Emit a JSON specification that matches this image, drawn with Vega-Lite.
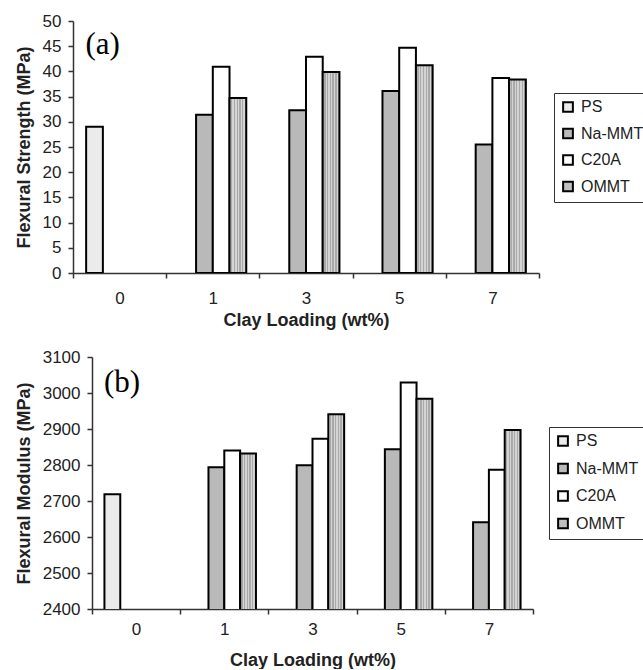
{
  "$schema": "https://vega.github.io/schema/vega-lite/v6.json",
  "padding": {"left": 15, "top": 12, "right": 0, "bottom": 0},
  "background": "white",
  "datasets": {
    "strength": [
      {"loading": "0", "series": "PS", "value": 29.0},
      {"loading": "1", "series": "Na-MMT", "value": 31.4},
      {"loading": "1", "series": "C20A", "value": 40.9},
      {"loading": "1", "series": "OMMT", "value": 34.7},
      {"loading": "3", "series": "Na-MMT", "value": 32.3},
      {"loading": "3", "series": "C20A", "value": 42.9},
      {"loading": "3", "series": "OMMT", "value": 39.9},
      {"loading": "5", "series": "Na-MMT", "value": 36.1},
      {"loading": "5", "series": "C20A", "value": 44.7},
      {"loading": "5", "series": "OMMT", "value": 41.2},
      {"loading": "7", "series": "Na-MMT", "value": 25.5},
      {"loading": "7", "series": "C20A", "value": 38.7},
      {"loading": "7", "series": "OMMT", "value": 38.4}
    ],
    "modulus": [
      {"loading": "0", "series": "PS", "value": 2719},
      {"loading": "1", "series": "Na-MMT", "value": 2794},
      {"loading": "1", "series": "C20A", "value": 2840},
      {"loading": "1", "series": "OMMT", "value": 2832},
      {"loading": "3", "series": "Na-MMT", "value": 2799},
      {"loading": "3", "series": "C20A", "value": 2873},
      {"loading": "3", "series": "OMMT", "value": 2941},
      {"loading": "5", "series": "Na-MMT", "value": 2844},
      {"loading": "5", "series": "C20A", "value": 3029},
      {"loading": "5", "series": "OMMT", "value": 2984},
      {"loading": "7", "series": "Na-MMT", "value": 2641},
      {"loading": "7", "series": "C20A", "value": 2787},
      {"loading": "7", "series": "OMMT", "value": 2897}
    ],
    "labelA": [{"loading": "0", "value": 45.3, "text": "(a)"}],
    "labelB": [{"loading": "0", "value": 3029, "text": "(b)"}]
  },
  "columns": 1,
  "concat": [
    {
      "width": 466,
      "height": 252,
      "encoding": {
        "x": {
          "field": "loading", "type": "nominal", "sort": ["0", "1", "3", "5", "7"],
          "scale": {"paddingInner": 0, "paddingOuter": 0},
          "axis": {"title": "Clay Loading (wt%)", "labelAngle": 0, "tickBand": "extent", "labelPadding": 12, "titlePadding": 5}
        },
        "y": {
          "field": "value", "type": "quantitative",
          "scale": {"domain": [0, 50]},
          "axis": {"title": "Flexural Strength (MPa)", "values": [0, 5, 10, 15, 20, 25, 30, 35, 40, 45, 50], "labelOverlap": false}
        }
      },
      "layer": [
        {
          "data": {"name": "strength"},
          "mark": {"type": "bar", "stroke": "black", "strokeWidth": 2, "clip": true},
          "encoding": {
            "xOffset": {
              "field": "series", "type": "nominal",
              "scale": {"domain": ["PS", "Na-MMT", "C20A", "OMMT"], "paddingInner": 0, "paddingOuter": 0.786}
            },
            "fill": {
              "condition": {
                "test": "datum.series === 'OMMT'",
                "value": {
                  "gradient": "linear", "x1": 0, "y1": 0, "x2": 1, "y2": 0,
                  "stops": [
                    {"offset": 0.0, "color": "#d4d4d4"}, {"offset": 0.083, "color": "#d4d4d4"},
                    {"offset": 0.083, "color": "#a9a9a9"}, {"offset": 0.167, "color": "#a9a9a9"},
                    {"offset": 0.167, "color": "#d4d4d4"}, {"offset": 0.25, "color": "#d4d4d4"},
                    {"offset": 0.25, "color": "#a9a9a9"}, {"offset": 0.333, "color": "#a9a9a9"},
                    {"offset": 0.333, "color": "#d4d4d4"}, {"offset": 0.417, "color": "#d4d4d4"},
                    {"offset": 0.417, "color": "#a9a9a9"}, {"offset": 0.5, "color": "#a9a9a9"},
                    {"offset": 0.5, "color": "#d4d4d4"}, {"offset": 0.583, "color": "#d4d4d4"},
                    {"offset": 0.583, "color": "#a9a9a9"}, {"offset": 0.667, "color": "#a9a9a9"},
                    {"offset": 0.667, "color": "#d4d4d4"}, {"offset": 0.75, "color": "#d4d4d4"},
                    {"offset": 0.75, "color": "#a9a9a9"}, {"offset": 0.833, "color": "#a9a9a9"},
                    {"offset": 0.833, "color": "#d4d4d4"}, {"offset": 0.917, "color": "#d4d4d4"},
                    {"offset": 0.917, "color": "#a9a9a9"}, {"offset": 1.0, "color": "#a9a9a9"}
                  ]
                }
              },
              "field": "series", "type": "nominal",
              "scale": {"domain": ["PS", "Na-MMT", "C20A", "OMMT"], "range": ["#ebebeb", "#b9b9b9", "#ffffff", "#bfbfbf"]},
              "legend": {"orient": "none", "legendX": 481, "legendY": 72}
            }
          }
        },
        {
          "data": {"name": "labelA"},
          "mark": {"type": "text", "font": "Liberation Serif", "fontSize": 31, "color": "black", "dx": -17},
          "encoding": {"text": {"field": "text"}}
        }
      ]
    },
    {
      "width": 460,
      "height": 252,
      "encoding": {
        "x": {
          "field": "loading", "type": "nominal", "sort": ["0", "1", "3", "5", "7"],
          "scale": {"paddingInner": 0, "paddingOuter": 0, "range": [19, 460]},
          "axis": {"title": "Clay Loading (wt%)", "labelAngle": 0, "tickBand": "extent", "labelPadding": 7, "titlePadding": 14}
        },
        "y": {
          "field": "value", "type": "quantitative",
          "scale": {"domain": [2400, 3100], "zero": false},
          "axis": {"title": "Flexural Modulus (MPa)", "values": [2400, 2500, 2600, 2700, 2800, 2900, 3000, 3100], "format": "d", "labelOverlap": false, "offset": -19}
        }
      },
      "layer": [
        {
          "data": {"name": "modulus"},
          "mark": {"type": "bar", "stroke": "black", "strokeWidth": 2, "clip": true},
          "encoding": {
            "xOffset": {
              "field": "series", "type": "nominal",
              "scale": {"domain": ["PS", "Na-MMT", "C20A", "OMMT"], "paddingInner": 0, "paddingOuter": 0.786}
            },
            "fill": {
              "condition": {
                "test": "datum.series === 'OMMT'",
                "value": {
                  "gradient": "linear", "x1": 0, "y1": 0, "x2": 1, "y2": 0,
                  "stops": [
                    {"offset": 0.0, "color": "#d4d4d4"}, {"offset": 0.083, "color": "#d4d4d4"},
                    {"offset": 0.083, "color": "#a9a9a9"}, {"offset": 0.167, "color": "#a9a9a9"},
                    {"offset": 0.167, "color": "#d4d4d4"}, {"offset": 0.25, "color": "#d4d4d4"},
                    {"offset": 0.25, "color": "#a9a9a9"}, {"offset": 0.333, "color": "#a9a9a9"},
                    {"offset": 0.333, "color": "#d4d4d4"}, {"offset": 0.417, "color": "#d4d4d4"},
                    {"offset": 0.417, "color": "#a9a9a9"}, {"offset": 0.5, "color": "#a9a9a9"},
                    {"offset": 0.5, "color": "#d4d4d4"}, {"offset": 0.583, "color": "#d4d4d4"},
                    {"offset": 0.583, "color": "#a9a9a9"}, {"offset": 0.667, "color": "#a9a9a9"},
                    {"offset": 0.667, "color": "#d4d4d4"}, {"offset": 0.75, "color": "#d4d4d4"},
                    {"offset": 0.75, "color": "#a9a9a9"}, {"offset": 0.833, "color": "#a9a9a9"},
                    {"offset": 0.833, "color": "#d4d4d4"}, {"offset": 0.917, "color": "#d4d4d4"},
                    {"offset": 0.917, "color": "#a9a9a9"}, {"offset": 1.0, "color": "#a9a9a9"}
                  ]
                }
              },
              "field": "series", "type": "nominal",
              "scale": {"domain": ["PS", "Na-MMT", "C20A", "OMMT"], "range": ["#ebebeb", "#b9b9b9", "#ffffff", "#bfbfbf"]},
              "legend": {"orient": "none", "legendX": 476, "legendY": 70, "rowPadding": 9.5}
            }
          }
        },
        {
          "data": {"name": "labelB"},
          "mark": {"type": "text", "font": "Liberation Serif", "fontSize": 31, "color": "black", "dx": -14},
          "encoding": {"text": {"field": "text"}}
        }
      ]
    }
  ],
  "spacing": 19,
  "align": "none",
  "bounds": "full",
  "resolve": {
    "scale": {"x": "independent", "y": "independent", "fill": "independent", "xOffset": "independent"},
    "legend": {"fill": "independent"}
  },
  "config": {
    "view": {"stroke": null},
    "font": "Liberation Sans",
    "axis": {
      "grid": false,
      "labelFont": "Liberation Sans",
      "labelFontSize": 17,
      "labelColor": "#222222",
      "labelPadding": 7,
      "labelOverlap": false,
      "titleFont": "Liberation Sans",
      "titleFontSize": 18,
      "titleFontWeight": "bold",
      "titleColor": "#222222",
      "titlePadding": 9,
      "domainColor": "#333333",
      "domainWidth": 1.5,
      "tickColor": "#333333",
      "tickWidth": 1.5,
      "tickSize": 5
    },
    "legend": {
      "title": null,
      "strokeColor": "#333333",
      "padding": 6,
      "symbolType": "square",
      "symbolSize": 95,
      "symbolStrokeColor": "black",
      "symbolStrokeWidth": 2,
      "symbolOpacity": 1,
      "labelFont": "Liberation Sans",
      "labelFontSize": 16,
      "labelColor": "#222222",
      "labelOffset": 5,
      "rowPadding": 8.5
    }
  }
}
